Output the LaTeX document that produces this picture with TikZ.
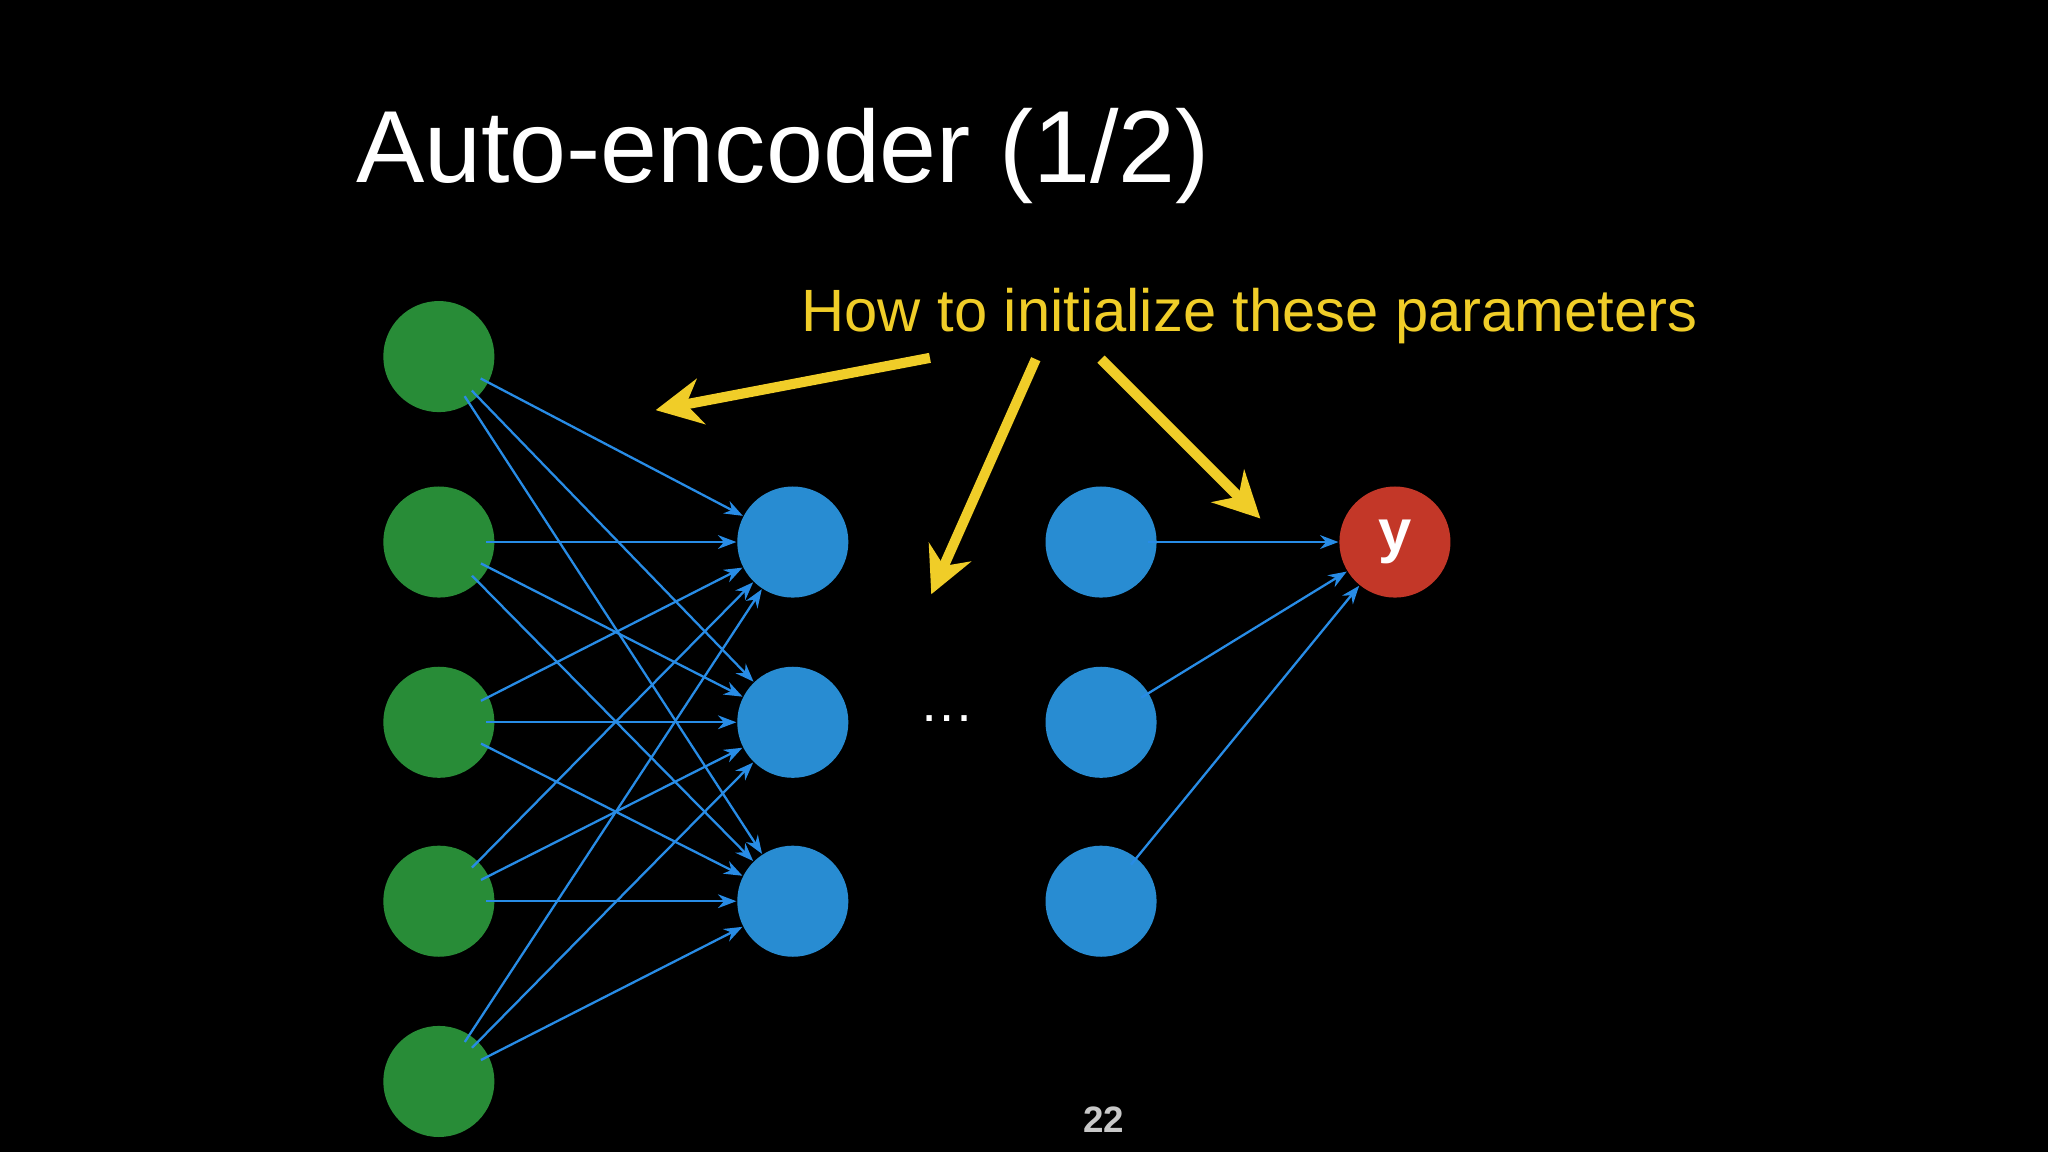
\documentclass[tikz,border=0pt]{standalone}
\usepackage{fontspec}
\setmainfont{Liberation Sans}
\usetikzlibrary{arrows.meta}
\begin{document}
\begin{tikzpicture}[x=0.01cm,y=-0.01cm,
  neuron/.style={circle,minimum size=0.85cm,inner sep=0pt},
  gr/.style={neuron,fill={rgb,255:red,40;green,140;blue,55}},
  bl/.style={neuron,fill={rgb,255:red,40;green,140;blue,210}},
  rd/.style={neuron,fill={rgb,255:red,195;green,55;blue,40}},
  conn/.style={draw={rgb,255:red,40;green,140;blue,230},line width=0.5pt,-{Stealth[length=4pt,width=3pt]},shorten <=-2pt,shorten >=0pt},
  yarr/.style={draw={rgb,255:red,240;green,205;blue,40},line width=2.2pt,-{Stealth[length=10pt,width=10pt]}}]
\fill[black] (0,0) rectangle (1568,882);
\useasboundingbox (0,0) rectangle (1568,882);
\node[anchor=base west,text=white,inner sep=0pt,font=\fontsize{22.3}{27}\selectfont] (title) at (272,140) {Auto-encoder (1/2)};
\node[anchor=base west,text={rgb,255:red,240;green,205;blue,40},inner sep=0pt,font=\fontsize{13}{16}\selectfont] (q) at (613,254) {How to initialize these parameters};
\foreach \i/\y in {1/273,2/415,3/553,4/690,5/828} \node[gr] (g\i) at (336,\y) {};
\foreach \i/\y in {1/415,2/553,3/690} \node[bl] (b\i) at (607,\y) {};
\foreach \i/\y in {1/415,2/553,3/690} \node[bl] (c\i) at (843,\y) {};
\node[rd,text=white,font=\bfseries\fontsize{13}{15}\selectfont] (r) at (1068,415) {y};
\foreach \i in {1,...,5} \foreach \j in {1,2,3} \draw[conn] (g\i) -- (b\j);
\foreach \j in {1,2,3} \draw[conn] (c\j) -- (r);
\node[text=white,font=\fontsize{12}{14}\selectfont] (dots) at (725,550) {\dots};
\node[text={rgb,255:red,200;green,200;blue,200},font=\bfseries\fontsize{8}{10}\selectfont] (pg) at (845,857) {22};
\coordinate (a1s) at (712,274); \coordinate (a1e) at (502,314);
\coordinate (a2s) at (793,275); \coordinate (a2e) at (713,455);
\coordinate (a3s) at (843,275); \coordinate (a3e) at (965,397);
\draw[yarr] (a1s) -- (a1e);
\draw[yarr] (a2s) -- (a2e);
\draw[yarr] (a3s) -- (a3e);
\end{tikzpicture}
\end{document}
